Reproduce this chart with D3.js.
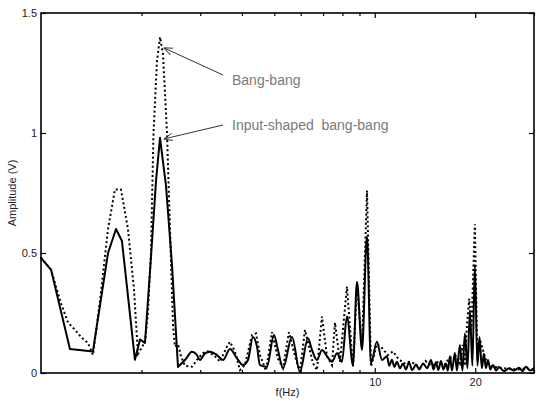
<!DOCTYPE html>
<html>
<head>
<meta charset="utf-8">
<script src="https://cdn.jsdelivr.net/npm/d3@7"></script>
<style>
  body { margin: 0; background: #fff; }
  svg { display: block; font-family: "Liberation Sans", Arial, sans-serif; }
  .eje text { font-size: 11px; fill: #222; }
  .eje path { display: none; }
  .eje line { stroke: #000; stroke-width: 1.2; }
</style>
</head>
<body>
<svg id="graph"></svg>
<script>
// frecuencias (Hz) y amplitudes (V)
var frecShaped = [1.000, 1.072, 1.221, 1.431, 1.588, 1.678, 1.748, 1.912, 1.980, 2.049,
  2.135, 2.211, 2.273, 2.369, 2.469, 2.573, 2.700, 2.834, 2.932, 2.994,
  3.099, 3.208, 3.366, 3.509, 3.683, 3.865, 4.028, 4.170, 4.316, 4.437,
  4.530, 4.753, 4.989, 5.129, 5.309, 5.649, 5.968, 6.308, 6.485, 6.711,
  6.947, 7.191, 7.444, 7.705, 7.974, 8.254, 8.604, 8.846, 9.156, 9.478,
  9.741, 10.15, 10.51, 10.88, 11.05, 11.26, 11.45, 11.65, 11.90, 12.15,
  12.40, 12.66, 12.95, 13.29, 13.60, 13.95, 14.35, 14.74, 15.00, 15.25,
  15.50, 15.79, 16.05, 16.34, 16.55, 16.80, 17.03, 17.38, 17.63, 17.99,
  18.31, 18.63, 18.95, 19.28, 19.61, 19.95, 20.30, 20.60, 20.94, 21.23,
  21.53, 21.84, 22.20, 22.60, 23.10, 23.56, 24.40, 25.24, 26.10, 27.04,
  27.70, 28.37, 29.20, 30.0];
var ampShaped = [0.48, 0.43, 0.10, 0.09, 0.50, 0.60, 0.55, 0.055, 0.14, 0.125,
  0.48, 0.80, 0.98, 0.78, 0.45, 0.026, 0.054, 0.089, 0.075, 0.054,
  0.082, 0.089, 0.075, 0.054, 0.10, 0.061, 0.033, 0.054, 0.15, 0.11,
  0.033, 0.026, 0.158, 0.096, 0.02, 0.15, 0.005, 0.145, 0.096, 0.054,
  0.096, 0.07, 0.047, 0.082, 0.047, 0.235, 0.033, 0.38, 0.096, 0.57,
  0.04, 0.13, 0.054, 0.07, 0.03, 0.055, 0.025, 0.047, 0.02, 0.04,
  0.015, 0.045, 0.012, 0.035, 0.015, 0.04, 0.02, 0.054, 0.015, 0.045,
  0.012, 0.05, 0.015, 0.04, 0.01, 0.07, 0.01, 0.083, 0.01, 0.117,
  0.01, 0.165, 0.02, 0.26, 0.03, 0.45, 0.03, 0.15, 0.02, 0.08,
  0.02, 0.054, 0.015, 0.033, 0.01, 0.025, 0.008, 0.02, 0.01, 0.022,
  0.008, 0.026, 0.01, 0.02];

var frecBang = [1.000, 1.072, 1.109, 1.148, 1.205, 1.264, 1.318, 1.383, 1.431, 1.502,
  1.588, 1.666, 1.736, 1.822, 1.899, 1.952, 1.993, 2.049, 2.091, 2.135,
  2.173, 2.226, 2.273, 2.320, 2.385, 2.435, 2.486, 2.520, 2.573, 2.627,
  2.700, 2.834, 2.953, 3.057, 3.164, 3.321, 3.437, 3.607, 3.683, 3.812,
  3.946, 4.084, 4.287, 4.407, 4.530, 4.721, 4.921, 5.129, 5.309, 5.532,
  5.766, 5.968, 6.179, 6.530, 6.711, 6.947, 7.191, 7.444, 7.599, 7.865,
  8.254, 8.604, 8.846, 9.156, 9.478, 9.741, 10.15, 10.51, 10.95, 11.34,
  11.74, 12.23, 12.66, 13.11, 13.66, 14.18, 14.84, 15.46, 16.12, 16.69,
  17.50, 17.99, 18.33, 18.63, 18.89, 19.19, 19.48, 19.95, 20.30, 20.66,
  21.09, 21.53, 22.14, 22.92, 24.05, 25.42, 26.86, 28.37, 30.0];
var ampBang = [0.48, 0.43, 0.36, 0.29, 0.21, 0.18, 0.15, 0.125, 0.075, 0.30,
  0.60, 0.765, 0.765, 0.60, 0.35, 0.08, 0.10, 0.13, 0.25, 0.50,
  1.0, 1.30, 1.40, 1.33, 1.0, 0.60, 0.20, 0.11, 0.12, 0.07,
  0.03, 0.026, 0.06, 0.083, 0.09, 0.07, 0.047, 0.11, 0.13, 0.09,
  0.012, 0.033, 0.158, 0.165, 0.075, 0.01, 0.17, 0.06, 0.02, 0.17,
  0.07, 0.005, 0.18, 0.04, 0.012, 0.235, 0.07, 0.033, 0.21, 0.047,
  0.36, 0.026, 0.37, 0.11, 0.76, 0.026, 0.12, 0.104, 0.075, 0.09,
  0.061, 0.04, 0.047, 0.04, 0.02, 0.05, 0.03, 0.045, 0.03, 0.061,
  0.07, 0.04, 0.117, 0.03, 0.20, 0.31, 0.18, 0.62, 0.05, 0.14,
  0.096, 0.054, 0.03, 0.025, 0.02, 0.018, 0.015, 0.02, 0.012];

var ticksMenores = [2, 3, 4, 5, 6, 7, 8, 9, 30];
var ticksX = [10, 20];
var ticksY = [0, 0.5, 1, 1.5];
var corteSuave = 2.573; // a partir de aqui la curva es redondeada

var config = { left: 41, right: 534, top: 13, bottom: 373 };

var svg = d3.select("#graph").attr("width", 536).attr("height", 401);

var x = d3.scaleLog().domain([1, 30]).range([config.left, config.right]);
var y = d3.scaleLinear().domain([0, 1.5]).range([config.bottom, config.top]);

var alto = config.bottom - config.top;
var ancho = config.right - config.left;

// ejes (ticks hacia dentro)
svg.append("g").attr("class", "eje")
    .attr("transform", "translate(0," + config.bottom + ")")
    .call(d3.axisBottom(x).tickValues(ticksMenores).tickSize(-3).tickFormat(""));
svg.append("g").attr("class", "eje")
    .attr("transform", "translate(0," + config.bottom + ")")
    .call(d3.axisBottom(x).tickValues(ticksX).tickSize(-5).tickPadding(5).tickFormat(d3.format("d")));
svg.append("g").attr("class", "eje")
    .attr("transform", "translate(0," + config.top + ")")
    .call(d3.axisTop(x).tickValues(ticksMenores).tickSize(-3).tickFormat(""));
svg.append("g").attr("class", "eje")
    .attr("transform", "translate(0," + config.top + ")")
    .call(d3.axisTop(x).tickValues(ticksX).tickSize(-5).tickFormat(""));
svg.append("g").attr("class", "eje")
    .attr("transform", "translate(" + config.left + ",0)")
    .call(d3.axisLeft(y).tickValues(ticksY).tickSize(-5).tickPadding(4).tickFormat(function(d) { return d; }));
svg.append("g").attr("class", "eje")
    .attr("transform", "translate(" + config.right + ",0)")
    .call(d3.axisRight(y).tickValues(ticksY).tickSize(-5).tickFormat(""));

// marco
svg.append("rect")
    .attr("x", config.left).attr("y", config.top)
    .attr("width", ancho).attr("height", alto)
    .attr("fill", "none").attr("stroke", "#000").attr("stroke-width", 1.6);

var linea = d3.line()
    .x(function(d) { return x(d[0]); })
    .y(function(d) { return y(d[1]); });
var lineaSuave = d3.line()
    .curve(d3.curveMonotoneX)
    .x(function(d) { return x(d[0]); })
    .y(function(d) { return y(d[1]); });

var datosBang = d3.zip(frecBang, ampBang);
var datosShaped = d3.zip(frecShaped, ampShaped);

svg.append("path")
    .datum(datosBang)
    .attr("d", linea)
    .attr("fill", "none")
    .attr("stroke", "#000")
    .attr("stroke-width", 2)
    .attr("stroke-dasharray", "2,2.6");

// tramo inicial recto, resto suavizado
var tramos = [
  { datos: datosShaped.filter(function(d) { return d[0] <= corteSuave; }), gen: linea },
  { datos: datosShaped.filter(function(d) { return d[0] >= corteSuave; }), gen: lineaSuave }
];
tramos.forEach(function(t) {
  svg.append("path")
      .datum(t.datos)
      .attr("d", t.gen)
      .attr("fill", "none")
      .attr("stroke", "#000")
      .attr("stroke-width", 2)
      .attr("stroke-linejoin", "round")
      .attr("stroke-linecap", "round");
});

// etiquetas de ejes
svg.append("text")
    .attr("x", (config.left + config.right) / 2).attr("y", 396)
    .attr("text-anchor", "middle").attr("font-size", 11).attr("fill", "#222")
    .text("f(Hz)");
svg.append("text")
    .attr("transform", "translate(16," + (config.top + alto / 2) + ") rotate(-90)")
    .attr("text-anchor", "middle").attr("font-size", 11).attr("fill", "#222")
    .text("Amplitude (V)");

// anotaciones con flecha
svg.append("defs").append("marker")
    .attr("id", "flecha")
    .attr("viewBox", "0 0 10 10").attr("refX", 10).attr("refY", 5)
    .attr("markerWidth", 9).attr("markerHeight", 9)
    .attr("orient", "auto").attr("markerUnits", "userSpaceOnUse")
    .append("path")
    .attr("d", "M0,1 L10,5 L0,9")
    .attr("fill", "none").attr("stroke", "#333").attr("stroke-width", 1);

var notas = [
  { texto: "Bang-bang", f: 2.30, v: 1.355, tx: 223, ty: 75, lx: 232, ly: 85 },
  { texto: "Input-shaped  bang-bang", f: 2.30, v: 0.975, tx: 223, ty: 125, lx: 232, ly: 130 }
];
notas.forEach(function(n) {
  svg.append("line")
      .attr("x1", n.tx).attr("y1", n.ty)
      .attr("x2", x(n.f) + 2).attr("y2", y(n.v))
      .attr("stroke", "#333").attr("stroke-width", 1)
      .attr("marker-end", "url(#flecha)");
  svg.append("text")
      .attr("x", n.lx).attr("y", n.ly)
      .attr("font-size", 14).attr("fill", "#7a7a7a")
      .style("white-space", "pre")
      .text(n.texto);
});
</script>
</body>
</html>
